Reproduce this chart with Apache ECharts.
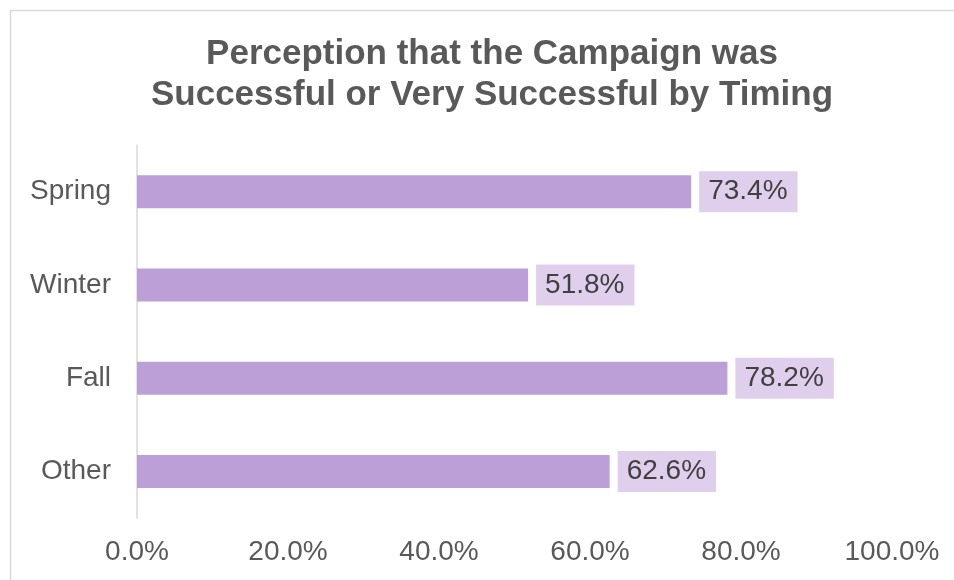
<!DOCTYPE html>
<html>
<head>
<meta charset="utf-8">
<script src="https://cdn.jsdelivr.net/npm/echarts@6/dist/echarts.min.js"></script>
<style>
  html, body { margin: 0; padding: 0; background: #ffffff; }
  #chart { width: 954px; height: 580px; }
</style>
</head>
<body>
<div id="chart"></div>
<script>
// Share of respondents rating the campaign successful / very successful
const categories = ['Spring', 'Winter', 'Fall', 'Other'];
const values = [73.4, 51.8, 78.2, 62.6];
const tickLabels = ['0.0%', '20.0%', '40.0%', '60.0%', '80.0%', '100.0%'];

const FONT = '"Liberation Sans", Arial, sans-serif';

const chart = echarts.init(document.getElementById('chart'), null, { renderer: 'canvas' });

chart.setOption({
  backgroundColor: '#ffffff',
  animation: false,
  graphic: [{
    type: 'rect',
    shape: { x: 10.5, y: 10.5, width: 960, height: 600 },
    style: { fill: 'none', stroke: '#d9d9d9', lineWidth: 1.5 },
    silent: true
  }],
  title: {
    text: 'Perception that the Campaign was\nSuccessful or Very Successful by Timing',
    left: 487,
    top: 29,
    textAlign: 'center',
    textStyle: {
      fontFamily: FONT,
      fontSize: 35,
      fontWeight: 'bold',
      color: '#595959',
      lineHeight: 41
    }
  },
  grid: { left: 137, right: 62, top: 145, bottom: 62, containLabel: false },
  xAxis: {
    type: 'value',
    min: 0,
    max: 100,
    interval: 20,
    axisLine: { show: false },
    axisTick: { show: false },
    splitLine: { show: false },
    axisLabel: {
      margin: 20,
      fontFamily: FONT,
      fontSize: 28,
      color: '#595959',
      formatter: function (v) { return tickLabels[Math.round(v / 20)]; }
    }
  },
  yAxis: {
    type: 'category',
    data: categories,
    inverse: true,
    axisLine: { show: true, lineStyle: { color: '#d9d9d9', width: 1.5 } },
    axisTick: { show: false },
    axisLabel: {
      margin: 26,
      fontFamily: FONT,
      fontSize: 28,
      color: '#595959'
    }
  },
  series: [{
    type: 'bar',
    data: values,
    barWidth: 33,
    itemStyle: { color: '#bb9fd6' },
    label: {
      show: true,
      position: 'right',
      distance: 8,
      fontFamily: FONT,
      fontSize: 28,
      color: '#404040',
      backgroundColor: '#dfcfec',
      padding: [7, 10, 6, 9],
      formatter: function (p) { return p.value.toFixed(1) + '%'; }
    }
  }]
});
</script>
</body>
</html>
